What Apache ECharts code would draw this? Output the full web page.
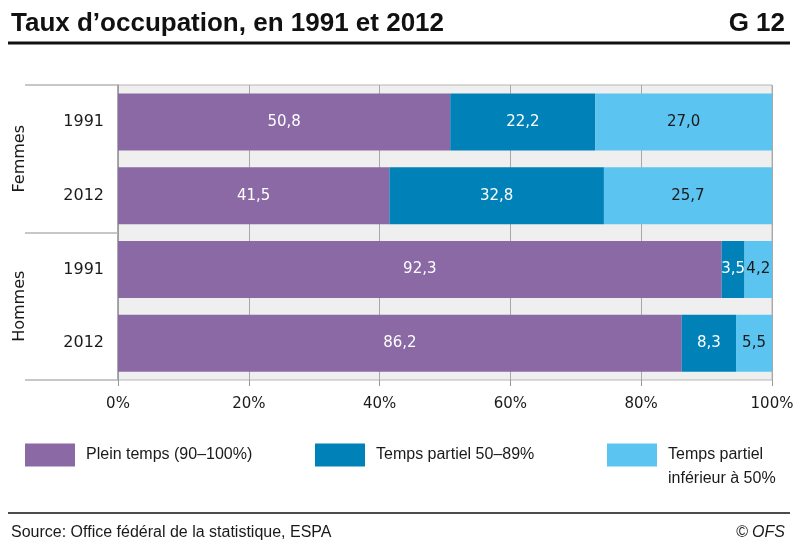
<!DOCTYPE html>
<html><head><meta charset="utf-8">
<script src="https://cdn.jsdelivr.net/npm/echarts@6/dist/echarts.min.js"></script>
<style>html,body{margin:0;padding:0;background:#fff}#c{width:797px;height:540px}</style>
</head><body><div id="c"></div>
<script>
var groups = ['Femmes', 'Hommes'];
var years = ['1991', '2012', '1991', '2012'];
var seriesNames = ['Plein temps (90–100%)', 'Temps partiel 50–89%', 'Temps partiel\ninférieur à 50%'];
var pleinTemps = [50.8, 41.5, 92.3, 86.2];
var partiel5089 = [22.2, 32.8, 3.5, 8.3];
var partielInf50 = [27.0, 25.7, 4.2, 5.5];
var xTicks = [0, 20, 40, 60, 80, 100];

var colors = ['#8a69a5', '#0081b8', '#5bc4f1'];
var labelColors = ['#ffffff', '#ffffff', '#1a1a1a'];
var cats = years.map(function (y, i) { return groups[Math.floor(i / 2)] + ' ' + y; });
var fontTick = '"DejaVu Sans", sans-serif';
var fontCond = '"Liberation Sans Narrow", "Liberation Sans", sans-serif';

function fmt(v) { return v.toFixed(1).replace('.', ','); }

var allData = [pleinTemps, partiel5089, partielInf50];
var series = allData.map(function (d, k) {
  return {
    name: seriesNames[k], type: 'bar', stack: 'total', barWidth: 57,
    data: d, itemStyle: { color: colors[k] },
    label: { show: true, position: 'inside', color: labelColors[k],
      fontFamily: fontTick, fontSize: 15,
      formatter: function (p) { return fmt(p.value); } },
    emphasis: { disabled: true }, silent: true
  };
});

function legendAt(left, top, k) {
  return { show: true, left: left, top: top, orient: 'horizontal', padding: 0,
    data: [seriesNames[k]], itemWidth: 50, itemHeight: 23, itemGap: 10,
    icon: 'rect', selectedMode: false,
    formatter: function (name) { return k === 2 ? ' \n' + name : name; },
    textStyle: { fontFamily: fontCond, fontSize: 16, color: '#1a1a1a', lineHeight: 24,
      padding: [0, 0, 0, 6] } };
}

var chart = echarts.init(document.getElementById('c'), null, { renderer: 'canvas' });
chart.setOption({
  animation: false,
  backgroundColor: '#fff',
  title: [
    { text: 'Taux d’occupation, en 1991 et 2012', left: 6, top: 6,
      textStyle: { fontFamily: fontCond, fontWeight: 'bold', fontSize: 26, color: '#111' } },
    { text: 'G 12', right: 7, top: 6,
      textStyle: { fontFamily: fontCond, fontWeight: 'bold', fontSize: 26, color: '#111' } },
    { text: 'Source: Office fédéral de la statistique, ESPA', left: 6, top: 520,
      textStyle: { fontFamily: fontCond, fontWeight: 'normal', fontSize: 16, color: '#1a1a1a' } },
    { text: '© OFS', right: 7, top: 520,
      textStyle: { fontFamily: fontCond, fontWeight: 'normal', fontStyle: 'italic', fontSize: 16, color: '#1a1a1a' } }
  ],
  legend: [legendAt(25, 443, 0), legendAt(315, 443, 1), legendAt(607, 419, 2)],
  graphic: [
    { type: 'line', shape: { x1: 8, y1: 43, x2: 790, y2: 43 }, style: { stroke: '#111', lineWidth: 3 } },
    { type: 'line', shape: { x1: 8, y1: 513, x2: 790, y2: 513 }, style: { stroke: '#111', lineWidth: 1.5 } }
  ],
  grid: { left: 118, right: 25, top: 85, bottom: 160, show: true,
    backgroundColor: '#efefef', borderColor: '#b5b5b5', borderWidth: 1 },
  xAxis: {
    type: 'value', min: 0, max: 100, interval: 20,
    axisLine: { show: false },
    axisTick: { show: true, length: 6, lineStyle: { color: '#999' } },
    splitLine: { show: true, lineStyle: { color: '#a8a8a8', width: 1 } },
    axisLabel: { margin: 17, fontFamily: fontTick, fontSize: 15, color: '#1a1a1a',
      formatter: function (v) { return xTicks.indexOf(v) >= 0 ? v + '%' : ''; } }
  },
  yAxis: [
    { type: 'category', data: cats, inverse: true,
      axisLine: { show: true, lineStyle: { color: '#9a9a9a', width: 1.5 } },
      axisTick: { show: false },
      axisLabel: { margin: 14, fontFamily: fontTick, fontSize: 16, color: '#1a1a1a',
        formatter: function (v) { return v.split(' ')[1]; } } },
    { type: 'category', data: groups, inverse: true, position: 'left',
      axisLine: { show: false },
      axisTick: { show: true, inside: false, length: 93, lineStyle: { color: '#b5b5b5', width: 1.5 } },
      axisLabel: { rotate: 90, margin: 106, fontFamily: fontTick, fontSize: 16, color: '#1a1a1a',
        verticalAlign: 'top', align: 'center' } }
  ],
  series: series
});
</script></body></html>
